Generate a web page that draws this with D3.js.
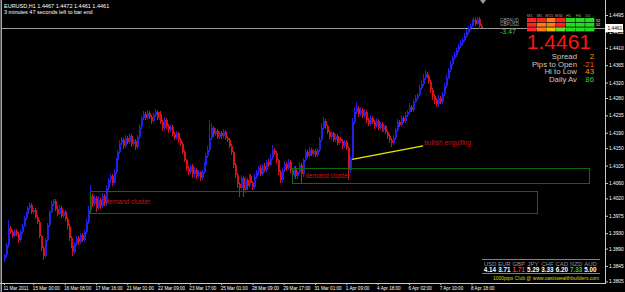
<!DOCTYPE html>
<html lang="en">
<head>
<meta charset="UTF-8">
<title>EURUSD,H1</title>
<script src="https://cdn.jsdelivr.net/npm/d3@7"></script>
<style>
  body { margin: 0; background: #000; }
  svg { display: block; font-family: "Liberation Sans", Arial, sans-serif; }
</style>
</head>
<body>
<svg id="chart" width="625" height="292"></svg>
<script>
// price data, one bar every 2 hours (open = previous close)
var firstOpen = 1.3862;
var closes = [
  1.3873,1.3899,1.3944,1.3933,1.3923,1.3936,1.3928,1.3912,1.3933,1.3949,
  1.3969,1.3980,1.3995,1.4003,1.3985,1.3990,1.3972,1.3959,1.3923,1.3891,
  1.3871,1.3912,1.3951,1.3985,1.4005,1.4013,1.3993,1.3980,1.3995,1.3974,
  1.3985,1.3967,1.3949,1.3918,1.3897,1.3881,1.3902,1.3918,1.3907,1.3925,
  1.3912,1.3933,1.3959,1.3990,1.4026,1.4005,1.4021,1.3995,1.4016,1.4000,
  1.4026,1.4008,1.4047,1.4068,1.4078,1.4060,1.4088,1.4119,1.4140,1.4164,
  1.4171,1.4156,1.4177,1.4166,1.4182,1.4161,1.4169,1.4153,1.4179,1.4205,
  1.4228,1.4239,1.4228,1.4241,1.4231,1.4220,1.4236,1.4244,1.4228,1.4239,
  1.4218,1.4202,1.4223,1.4207,1.4197,1.4205,1.4187,1.4177,1.4189,1.4171,
  1.4161,1.4140,1.4119,1.4099,1.4088,1.4104,1.4083,1.4094,1.4078,1.4088,
  1.4073,1.4088,1.4107,1.4130,1.4145,1.4177,1.4202,1.4187,1.4195,1.4179,
  1.4189,1.4182,1.4192,1.4177,1.4171,1.4156,1.4140,1.4107,1.4081,1.4057,
  1.4047,1.4073,1.4042,1.4068,1.4052,1.4078,1.4060,1.4050,1.4075,1.4088,
  1.4099,1.4083,1.4104,1.4094,1.4114,1.4107,1.4125,1.4145,1.4138,1.4119,
  1.4088,1.4068,1.4094,1.4109,1.4099,1.4114,1.4094,1.4081,1.4099,1.4078,
  1.4088,1.4107,1.4083,1.4119,1.4140,1.4130,1.4145,1.4135,1.4143,1.4132,
  1.4145,1.4171,1.4202,1.4220,1.4207,1.4192,1.4179,1.4189,1.4171,1.4182,
  1.4164,1.4174,1.4169,1.4156,1.4166,1.4151,1.4094,1.4125,1.4218,1.4244,
  1.4254,1.4239,1.4249,1.4233,1.4244,1.4223,1.4213,1.4228,1.4218,1.4207,
  1.4220,1.4202,1.4213,1.4197,1.4207,1.4192,1.4182,1.4171,1.4164,1.4177,
  1.4197,1.4218,1.4210,1.4228,1.4220,1.4236,1.4244,1.4257,1.4249,1.4270,
  1.4280,1.4288,1.4306,1.4316,1.4332,1.4342,1.4337,1.4322,1.4301,1.4285,
  1.4275,1.4264,1.4280,1.4270,1.4290,1.4311,1.4332,1.4353,1.4368,1.4384,
  1.4391,1.4404,1.4415,1.4422,1.4430,1.4441,1.4451,1.4461,1.4467,1.4477,
  1.4482,1.4472,1.4485,1.4467,1.4461
];
// upper / lower shadow length in pips
var wickUp = [
  4,6,20,5,4,6,5,4,6,5, 5,6,4,7,5,6,4,5,4,3, 5,6,5,6,7,6,5,6,8,5, 6,5,4,5,4,4,6,5,4,6,
  5,6,8,10,28,6,8,5,9,6, 8,6,7,5,6,5,7,6,5,6, 7,5,6,5,6,4,5,5,6,7, 6,8,5,7,5,6,6,8,5,6,
  7,4,8,5,5,6,4,5,6,4, 5,4,5,4,6,5,4,6,5,5, 4,6,7,8,10,47,12,6,7,5, 6,5,7,5,4,5,4,4,5,4,
  6,8,5,7,5,6,5,6,7,6, 5,7,6,8,6,7,9,12,6,5, 4,5,6,8,5,7,5,4,6,5, 5,7,4,6,8,5,7,5,6,5,
  6,8,12,10,5,4,5,6,4,6, 5,6,5,4,6,5,4,6,9,12, 16,6,8,5,7,5,6,7,5,6, 7,5,6,5,6,4,4,5,6,7,
  6,7,5,8,6,7,6,9,5,8, 7,6,8,7,9,10,6,5,4,4, 5,4,7,5,6,7,8,6,7,6, 7,6,5,7,6,8,7,6,7,8,
  9,5,5,6,5
];
var wickDown = [
  6,5,4,6,5,4,5,8,4,5, 4,5,4,5,6,5,6,5,6,8, 10,5,4,5,4,5,6,5,4,6, 5,6,7,8,6,9,5,6,7,5,
  6,5,4,5,6,8,6,9,6,8, 6,9,7,6,8,7,5,4,5,6, 5,7,5,6,5,7,6,7,5,4, 5,5,6,5,6,7,5,5,6,5,
  6,7,5,6,7,5,6,5,6,7, 5,6,5,7,8,6,9,7,8,6, 9,6,5,4,5,6,5,7,5,6, 5,7,5,6,5,6,7,8,7,9,
  23,6,19,7,9,6,8,7,5,6, 7,5,6,5,6,5,4,5,6,7, 8,9,6,5,7,6,8,7,6,9, 7,6,23,8,6,5,6,5,6,5,
  5,4,5,6,7,6,5,7,6,5, 6,5,6,7,5,6,26,8,4,5, 6,7,5,6,5,7,6,5,6,7, 5,6,5,6,5,6,7,8,10,6,
  5,6,5,4,6,5,4,5,6,5, 4,5,4,5,4,5,6,7,8,9, 10,8,7,6,5,4,5,4,5,6, 5,4,5,6,5,4,5,6,5,4,
  5,6,4,7,0
];

var xTickLabels = ["11 Mar 2011","15 Mar 00:00","16 Mar 08:00","17 Mar 16:00","21 Mar 01:00",
  "22 Mar 09:00","23 Mar 17:00","25 Mar 01:00","28 Mar 09:00","29 Mar 17:00","31 Mar 01:00",
  "1 Apr 09:00","4 Apr 18:00","6 Apr 02:00","7 Apr 10:00","8 Apr 18:00"];
var yTickLabels = ["1.4495","1.4452","1.4410","1.4365","1.4320","1.4280","1.4235","1.4190",
  "1.4150","1.4105","1.4060","1.4020","1.3975","1.3930","1.3890","1.3845","1.3805"];

// drawn objects (bar index / price)
var zones = [
  {from: 44, to: 272.5, top: 1.4039, bottom: 1.3982, label: "demand cluster", at: 52},
  {from: 147, to: 299, top: 1.4099, bottom: 1.4060, label: "demand cluster", at: 154}
];
var trendPoints = [{i: 178, p: 1.4121}, {i: 214.3, p: 1.4156}];
var trendLabel = "bullish engulfing";

// info panels
var titleLine = "EURUSD,H1  1.4467 1.4472 1.4461 1.4461";
var timerLine = "3 minutes 47 seconds left to bar end";
var infoLabels = ["Spread", "Pips to Open", "Hi to Low", "Daily Av"];
var infoValues = ["2", "-21", "43", "86"];
var tfLabels = ["M1", "M5", "M15", "M30", "H1", "H4", "D1"];
var tfPairs = ["GBPAUD", "GBPUSD", ""];
var tfSignals = [[-2,-2,-1,-2,2,2,2], [-2,-1,-1,-2,2,2,2], [-2,-1,0,1,2,2,2]];
var tfEnds = ["52", "52", ""];
var plChange = "-3.47";
var currencies = ["USD","EUR","GBP","JPY","CHF","CAD","NZD","AUD"];
var strength = [4.14, 3.71, 1.71, 5.29, 3.33, 6.20, 7.33, 5.00];
var footer = "1000pips Club @ www.oasiswealthbuilders.com";

var svg = d3.select("#chart");
svg.append("rect").attr("width", 625).attr("height", 292).attr("fill", "#000");

var n = closes.length;
var x = d3.scaleLinear().domain([0, 244]).range([4, 481.3]);
var y = d3.scaleLinear().domain([1.3805, 1.4495]).range([281.4, 15]);

var bars = closes.map(function (c, i) {
  var o = i === 0 ? firstOpen : closes[i - 1];
  return {
    i: i, o: o, c: c,
    h: Math.max(o, c) + (wickUp[i] || 0) / 10000,
    l: Math.min(o, c) - (wickDown[i] || 0) / 10000
  };
});
function barColour(d) {
  if (d.c > d.o) return "#2020e6";
  if (d.c < d.o) return "#d41414";
  return "#20c020";
}

// window border on the left
svg.append("rect").attr("x", 0.5).attr("y", 0).attr("width", 1.5).attr("height", 292).attr("fill", "#a8a8a8");

// current price line
svg.append("line")
  .attr("x1", 2).attr("x2", 605)
  .attr("y1", Math.round(y(closes[n - 1])) + 0.5).attr("y2", Math.round(y(closes[n - 1])) + 0.5)
  .attr("stroke", "#9a9a9a").attr("stroke-width", 1);

// candles
var cg = svg.append("g").attr("shape-rendering", "crispEdges");
cg.selectAll("line").data(bars).enter()
  .append("line")
  .attr("x1", function (d) { return Math.round(x(d.i)) + 0.5; })
  .attr("x2", function (d) { return Math.round(x(d.i)) + 0.5; })
  .attr("y1", function (d) { return y(d.h); })
  .attr("y2", function (d) { return y(d.l); })
  .attr("stroke", barColour);
cg.selectAll("rect").data(bars).enter()
  .append("rect")
  .attr("x", function (d) { return Math.round(x(d.i)); })
  .attr("width", 2)
  .attr("y", function (d) { return y(Math.max(d.o, d.c)); })
  .attr("height", function (d) { return Math.max(1, y(Math.min(d.o, d.c)) - y(Math.max(d.o, d.c))); })
  .attr("fill", barColour);

// demand zones
var zg = svg.append("g");
zg.selectAll("rect").data(zones).enter()
  .append("rect")
  .attr("x", function (d) { return Math.round(x(d.from)) + 0.5; })
  .attr("y", function (d) { return Math.round(y(d.top)) + 0.5; })
  .attr("width", function (d) { return Math.round(x(d.to) - x(d.from)); })
  .attr("height", function (d) { return Math.round(y(d.bottom) - y(d.top)); })
  .attr("fill", "none").attr("stroke", "#0c6a0c").attr("stroke-width", 1);
zg.selectAll("text").data(zones).enter()
  .append("text")
  .attr("x", function (d) { return x(d.at); })
  .attr("y", function (d) { return (y(d.top) + y(d.bottom)) / 2; })
  .attr("dy", "0.35em")
  .attr("font-size", "6.5px").attr("fill", "#d01010")
  .text(function (d) { return d.label; });

// bullish engulfing line
svg.append("path")
  .datum(trendPoints)
  .attr("d", d3.line().x(function (d) { return x(d.i); }).y(function (d) { return y(d.p); }))
  .attr("stroke", "#e8e800").attr("stroke-width", 1.3).attr("fill", "none");
svg.append("text")
  .attr("x", x(trendPoints[1].i) + 1).attr("y", y(trendPoints[1].p) - 3)
  .attr("dy", "0.35em")
  .attr("font-size", "6.5px").attr("fill", "#d01010")
  .text(trendLabel);

// axes
var yAxis = d3.axisRight(y)
  .tickValues(yTickLabels.map(Number))
  .tickSize(3)
  .tickFormat(d3.format(".4f"));
var ya = svg.append("g").attr("transform", "translate(605,0)").call(yAxis);
ya.select(".domain").remove();
ya.selectAll("line").attr("stroke", "#c8c8c8");
ya.selectAll("text").attr("fill", "#fff").attr("font-size", "4.8px").attr("x", 4)
  .attr("font-family", "'Liberation Sans', Arial, sans-serif");

var xTickBars = xTickLabels.map(function (t, k) { return k === 0 ? 0 : 15 + 16 * (k - 1); });
var xAxis = d3.axisBottom(x)
  .tickValues(xTickBars)
  .tickSize(2)
  .tickFormat(function (d, k) { return xTickLabels[k]; });
var xa = svg.append("g").attr("transform", "translate(0,283)").call(xAxis);
xa.select(".domain").remove();
xa.selectAll("line").attr("stroke", "#c8c8c8");
xa.selectAll("text").attr("fill", "#fff").attr("font-size", "4.6px")
  .attr("text-anchor", "start").attr("dx", "-1").attr("y", 3.5)
  .attr("font-family", "'Liberation Sans', Arial, sans-serif");

svg.append("line").attr("x1", 605.5).attr("x2", 605.5).attr("y1", 0).attr("y2", 283.5)
  .attr("stroke", "#c8c8c8");
svg.append("line").attr("x1", 0).attr("x2", 606).attr("y1", 283.5).attr("y2", 283.5)
  .attr("stroke", "#c8c8c8");

// price box on the axis
var lastY = Math.round(y(closes[n - 1]));
svg.append("rect").attr("x", 605).attr("y", lastY - 4).attr("width", 18).attr("height", 8)
  .attr("fill", "#fff");
svg.append("text").attr("x", 607.5).attr("y", lastY).attr("dy", "0.35em")
  .attr("font-size", "4.8px").attr("fill", "#000")
  .text(d3.format(".4f")(closes[n - 1]));

// shift marker
svg.append("path").attr("d", "M480,0 L486,0 L483,4 Z").attr("fill", "#9a9a9a");

// title
svg.append("text").attr("x", 4).attr("y", 8).attr("font-size", "5.5px").attr("fill", "#fff").text(titleLine);
svg.append("text").attr("x", 4).attr("y", 14).attr("font-size", "5.5px").attr("fill", "#fff").text(timerLine);

// timeframe signal grid
var sigColour = d3.scaleOrdinal().domain([-2, -1, 0, 1, 2])
  .range(["#ff2222", "#ff7a1a", "#e8c000", "#66dd33", "#22dd22"]);
var gx = 527, cw = 9.7;
svg.append("g").selectAll("text").data(tfLabels).enter()
  .append("text")
  .attr("x", function (d, k) { return gx + cw * k + cw / 2 - 2; })
  .attr("y", 16.5).attr("text-anchor", "middle")
  .attr("font-size", "4px").attr("fill", "#a0a0a0")
  .text(function (d) { return d; });
tfSignals.forEach(function (row, r) {
  var ry = 18 + r * 4.7;
  svg.append("g").selectAll("rect").data(row).enter()
    .append("rect")
    .attr("x", function (d, k) { return gx + cw * k; })
    .attr("y", ry).attr("width", cw - 0.5).attr("height", 4)
    .attr("fill", function (d) { return sigColour(d); });
  svg.append("text").attr("x", 500).attr("y", ry + 3.5).attr("font-size", "4.5px")
    .attr("fill", "#a0a0a0").text(tfPairs[r]);
  svg.append("text").attr("x", gx + cw * 7 + 1).attr("y", ry + 3.5).attr("font-size", "4px")
    .attr("fill", "#fff").text(tfEnds[r]);
});
svg.append("text").attr("x", 500).attr("y", 34).attr("font-size", "7px")
  .attr("fill", "#22dd22").text(plChange);

// big price and info block
svg.append("text").attr("x", 591).attr("y", 49).attr("text-anchor", "end")
  .attr("font-size", "21px").attr("fill", "#ff1414")
  .text(d3.format(".4f")(closes[n - 1]));
var valueColours = ["#ff9a00", "#ff5a10", "#ff9a00", "#33cc33"];
infoLabels.forEach(function (t, k) {
  var by = 59 + k * 7.5;
  svg.append("text").attr("x", 577).attr("y", by).attr("text-anchor", "end")
    .attr("font-size", "7.8px").attr("fill", "#c8c8c8").text(t);
  svg.append("text").attr("x", 594).attr("y", by).attr("text-anchor", "end")
    .attr("font-size", "7.8px").attr("fill", valueColours[k]).text(infoValues[k]);
});

// currency strength
var cx = d3.scalePoint().domain(currencies).range([490, 590.5]);
svg.append("line").attr("x1", 482).attr("x2", 600).attr("y1", 259.5).attr("y2", 259.5).attr("stroke", "#808080");
svg.append("line").attr("x1", 482).attr("x2", 600).attr("y1", 273.5).attr("y2", 273.5).attr("stroke", "#808080");
svg.append("g").selectAll("text").data(currencies).enter()
  .append("text")
  .attr("x", function (d) { return cx(d); }).attr("y", 266)
  .attr("text-anchor", "middle").attr("font-size", "6px").attr("fill", "#909090")
  .text(function (d) { return d; });
svg.append("g").selectAll("text").data(strength).enter()
  .append("text")
  .attr("x", function (d, k) { return cx(currencies[k]); }).attr("y", 272.3)
  .attr("text-anchor", "middle").attr("font-size", "6.3px").attr("font-weight", "bold")
  .attr("fill", function (d) { return d < 2 ? "#ff2a2a" : (d > 7 ? "#22dd22" : "#fff"); })
  .text(function (d) { return d3.format(".2f")(d); });
svg.append("text").attr("x", 493).attr("y", 279.5).attr("font-size", "5px")
  .attr("fill", "#d8d800").text(footer);
</script>
</body>
</html>
